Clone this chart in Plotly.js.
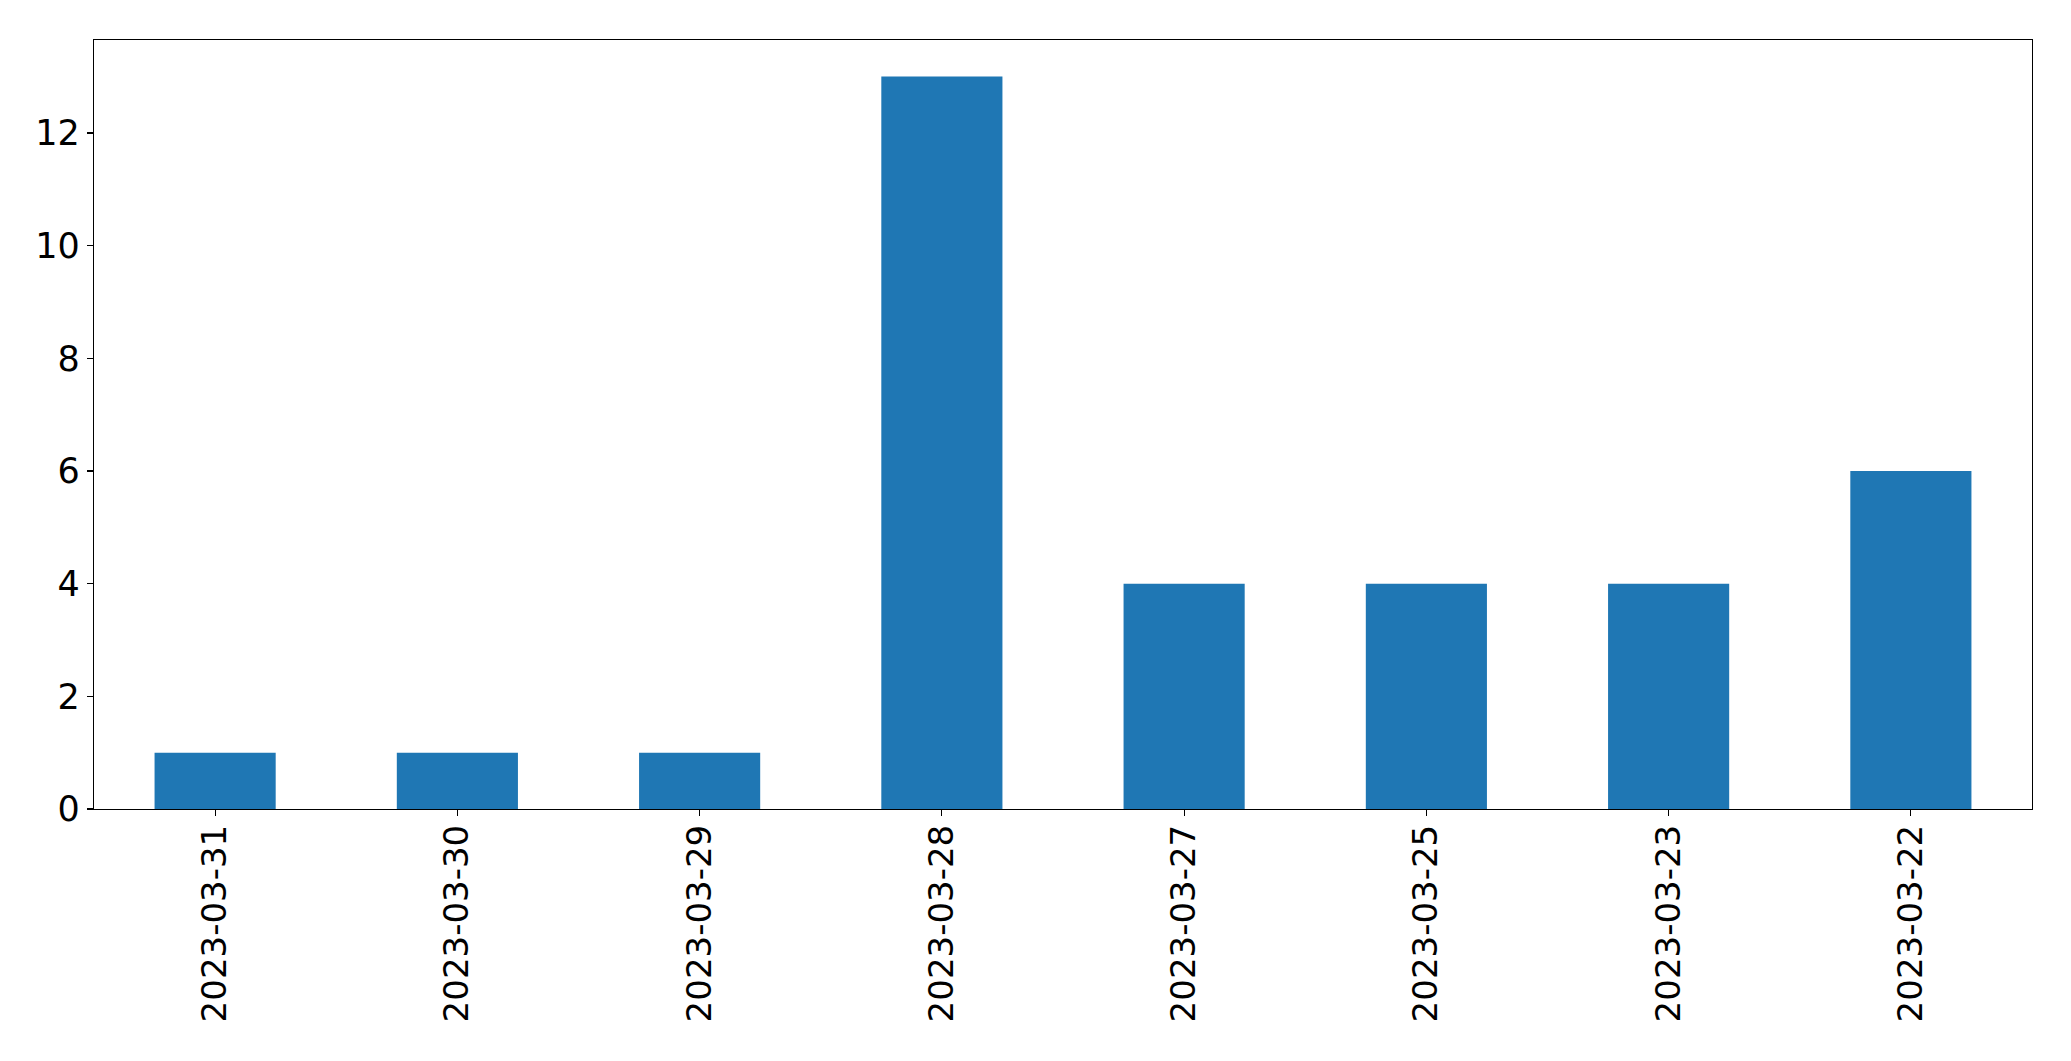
<!DOCTYPE html>
<html>
<head>
<meta charset="utf-8">
<script src="https://cdn.plot.ly/plotly-3.0.1.min.js"></script>
<style>html,body{margin:0;padding:0;background:#fff;}</style>
</head>
<body>
<div id="chart" style="width:2071px;height:1061px;"></div>
<script>
const dates = ["2023-03-31","2023-03-30","2023-03-29","2023-03-28","2023-03-27","2023-03-25","2023-03-23","2023-03-22"];
const counts = [1,1,1,13,4,4,4,6];
const yTicks = [0,2,4,6,8,10,12];

const trace = {
  type: "bar",
  x: dates,
  y: counts,
  width: 0.5,
  marker: {color: "#1f77b4", line: {width: 0}},
  hoverinfo: "x+y"
};
// transparent copy on a second x axis, used only to draw the tick marks
const tickTrace = {
  type: "bar",
  x: dates,
  y: counts,
  xaxis: "x2",
  width: 0.5,
  marker: {color: "rgba(0,0,0,0)"},
  hoverinfo: "skip"
};

const xFont = {family: "DejaVu Sans, sans-serif", size: 34, color: "#000"};
const yFont = {family: "DejaVu Sans, sans-serif", size: 35, color: "#000"};

const layout = {
  width: 2071,
  height: 1061,
  margin: {l: 94, r: 39, t: 40, b: 252, pad: 0},
  paper_bgcolor: "#fff",
  plot_bgcolor: "#fff",
  showlegend: false,
  bargap: 0.5,
  barmode: "overlay",
  xaxis: {
    type: "category",
    range: [-0.5, 7.5],
    tickangle: -90,
    ticks: "outside",
    ticklen: 1,
    tickcolor: "rgba(0,0,0,0)",
    tickfont: xFont,
    showline: true,
    linecolor: "#000",
    linewidth: 1.2,
    mirror: true,
    showgrid: false,
    zeroline: false,
    automargin: false
  },
  xaxis2: {
    type: "category",
    overlaying: "x",
    side: "bottom",
    anchor: "y",
    range: [-0.5, 7.5],
    ticks: "outside",
    ticklen: 6,
    tickwidth: 1.2,
    tickcolor: "#000",
    showticklabels: false,
    showline: false,
    showgrid: false,
    zeroline: false,
    automargin: false
  },
  yaxis: {
    range: [0, 13.65],
    tickvals: yTicks,
    ticktext: yTicks.map(String),
    ticks: "outside",
    ticklen: 6,
    tickwidth: 1.2,
    tickcolor: "#000",
    tickfont: yFont,
    showline: true,
    linecolor: "#000",
    linewidth: 1.2,
    mirror: true,
    showgrid: false,
    zeroline: false,
    automargin: false
  }
};

Plotly.newPlot("chart", [trace, tickTrace], layout, {displayModeBar: false, staticPlot: true});
</script>
</body>
</html>
